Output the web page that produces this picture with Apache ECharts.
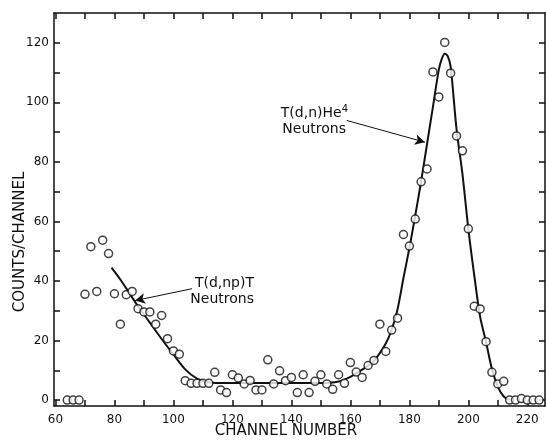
<!DOCTYPE html>
<html>
<head>
<meta charset="utf-8">
<script src="https://cdn.jsdelivr.net/npm/echarts@6/dist/echarts.min.js"></script>
<style>
  html, body { margin: 0; padding: 0; background: #fff; }
  #chart { width: 547px; height: 445px; }
</style>
</head>
<body>
<div id="chart"></div>
<script>
// measured points (counts per channel)
var channels = [64, 66, 68, 70, 72, 74, 76, 78, 80, 82, 84, 86, 88, 90, 92, 94, 96, 98, 100, 102,
  104, 106, 108, 110, 112, 114, 116, 118, 120, 122, 124, 126, 128, 130, 132, 134, 136, 138, 140, 142,
  144, 146, 148, 150, 152, 154, 156, 158, 160, 162, 164, 166, 168, 170, 172, 174, 176, 178, 180, 182,
  184, 186, 188, 190, 192, 194, 196, 198, 200, 202, 204, 206, 208, 210, 212, 214, 216, 218, 220, 222, 224];
var counts = [0, 0, 0, 35.5, 51.5, 36.5, 53.7, 49.2, 35.7, 25.5, 35.4, 36.5, 30.7, 29.6, 29.6, 25.5, 28.4, 20.6, 16.5, 15.4,
  6.5, 5.6, 5.6, 5.6, 5.6, 9.3, 3.4, 2.5, 8.5, 7.4, 5.4, 6.6, 3.4, 3.4, 13.5, 5.4, 9.8, 6.5, 7.6, 2.5,
  8.5, 2.5, 6.3, 8.5, 5.4, 3.6, 8.5, 5.6, 12.6, 9.4, 7.6, 11.6, 13.3, 25.5, 16.3, 23.5, 27.5, 55.6, 51.7, 60.8,
  73.3, 77.6, 110.2, 101.8, 120.1, 109.8, 88.7, 83.7, 57.5, 31.5, 30.6, 19.6, 9.3, 5.4, 6.3, 0, 0, 0.5, 0, 0, 0];

// hand-drawn fit curve
var fitChannels = [79, 82, 85, 88, 92, 96, 100, 104, 108, 112, 118, 150, 156, 160, 164, 168, 172, 174, 176, 178,
  180, 182, 184, 186, 188, 190, 191, 192, 193, 194, 196, 198, 200, 202, 204, 206, 208, 210, 212, 214];
var fitCounts = [44.5, 40.5, 36, 31.5, 26, 20.5, 15.3, 10.3, 7.2, 6, 5.7, 5.7, 6.2, 7.8, 10.2, 13.2, 19, 23.6, 30.5, 41,
  51, 62, 73.5, 86, 98.5, 111, 114.6, 116.3, 115.5, 112, 91, 76, 57.5, 42, 28, 19.5, 10.5, 4.5, 1.2, 0];

// axis ticks and labels
var xTicks = [60, 70, 80, 90, 100, 110, 120, 130, 140, 150, 160, 170, 180, 190, 200, 210, 220];
var xLabels = [60, 80, 100, 120, 140, 160, 180, 200, 220];
var yTicks = [0, 10, 20, 30, 40, 50, 60, 70, 80, 90, 100, 110, 120];
var yLabels = [0, 20, 40, 60, 80, 100, 120];

var pts = channels.map(function (c, i) { return [c, counts[i]]; });
var fit = fitChannels.map(function (c, i) { return [c, fitCounts[i]]; });

var font = 'DejaVu Sans';
var ink = '#111';

function xAx(pos, showLabel) {
  return {
    type: 'value', position: pos, min: 59.5, max: 226,
    axisLine: { show: true, onZero: false, lineStyle: { color: ink, width: 1.5 } },
    axisTick: { show: true, inside: true, length: 6, customValues: xTicks, lineStyle: { color: ink, width: 1.5 } },
    axisLabel: { show: showLabel, customValues: xLabels, margin: 8, color: ink, fontFamily: font, fontSize: 12 },
    splitLine: { show: false }
  };
}
function yAx(pos, showLabel) {
  return {
    type: 'value', position: pos, min: -2, max: 130,
    axisLine: { show: true, onZero: false, lineStyle: { color: ink, width: 1.5 } },
    axisTick: { show: true, inside: true, length: 6, customValues: yTicks, lineStyle: { color: ink, width: 1.5 } },
    axisLabel: { show: showLabel, customValues: yLabels, margin: 5, color: ink, fontFamily: font, fontSize: 12 },
    splitLine: { show: false }
  };
}

var chart = echarts.init(document.getElementById('chart'), null, { renderer: 'canvas' });
chart.setOption({
  animation: false,
  backgroundColor: '#fff',
  grid: { left: 54, right: 2, top: 13, bottom: 39 },
  xAxis: [xAx('bottom', true), xAx('top', false)],
  yAxis: [yAx('left', true), yAx('right', false)],
  series: [
    {
      type: 'line', data: fit, smooth: 0.3, showSymbol: false, z: 2,
      lineStyle: { color: ink, width: 2 },
      markLine: {
        silent: true, symbol: ['none', 'arrow'], symbolSize: [8, 10],
        label: { show: false },
        lineStyle: { color: ink, width: 1, type: 'solid' },
        data: [
          [{ coord: [158.8, 93.9] }, { coord: [185.3, 86.6] }],
          [{ coord: [106.3, 37.4] }, { coord: [87.0, 33.4] }]
        ]
      }
    },
    {
      type: 'scatter', data: pts, symbol: 'circle', symbolSize: 8, z: 3,
      itemStyle: { color: '#fff', borderColor: ink, borderWidth: 1.5 }
    }
  ],
  graphic: [
    { type: 'text', x: 20, y: 242, rotation: Math.PI / 2,
      style: { text: 'COUNTS/CHANNEL', font: '15px DejaVu Sans', fill: ink, align: 'center', verticalAlign: 'middle' } },
    { type: 'text', x: 286, y: 431,
      style: { text: 'CHANNEL NUMBER', font: '15px DejaVu Sans', fill: ink, align: 'center', verticalAlign: 'middle' } },
    { type: 'text', x: 348, y: 113,
      style: { text: '{a|T(d,n)He}{s|4}', align: 'right', verticalAlign: 'middle', fill: ink,
        rich: { a: { fontFamily: font, fontSize: 14, fill: ink }, s: { fontFamily: font, fontSize: 10, fill: ink, verticalAlign: 'top', padding: [0, 0, 8, 0] } } } },
    { type: 'text', x: 346, y: 129,
      style: { text: 'Neutrons', font: '14px DejaVu Sans', fill: ink, align: 'right', verticalAlign: 'middle' } },
    { type: 'text', x: 254, y: 283,
      style: { text: 'T(d,np)T', font: '14px DejaVu Sans', fill: ink, align: 'right', verticalAlign: 'middle' } },
    { type: 'text', x: 254, y: 299,
      style: { text: 'Neutrons', font: '14px DejaVu Sans', fill: ink, align: 'right', verticalAlign: 'middle' } }
  ]
});
</script>
</body>
</html>
